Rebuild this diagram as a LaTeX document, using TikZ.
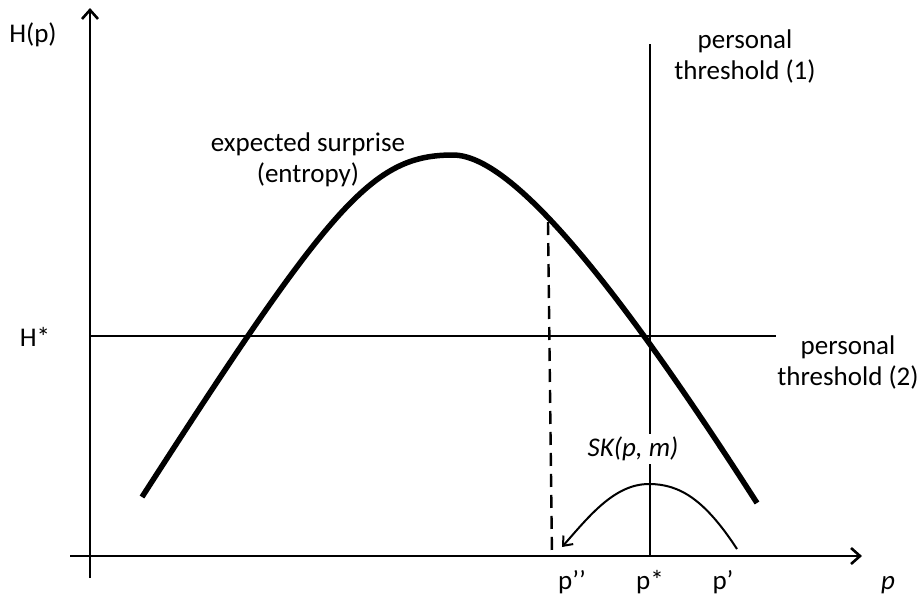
\documentclass[tikz,border=0pt]{standalone}
\usepackage{fontspec}
\setmainfont{Carlito}
\usetikzlibrary{arrows.meta}
\tikzset{
  axis/.style={line width=2.6pt, -{Straight Barb[length=9pt,width=16pt,line width=2.6pt]}},
  level/.style={line width=2.2pt},
  entropy/.style={line width=5.5pt},
  guide/.style={line width=2.4pt, dash pattern=on 13pt off 8pt},
  skarrow/.style={line width=2pt, -{Straight Barb[length=8pt,width=13pt,line width=2pt]}},
  lbl/.style={font=\fontsize{27}{31}\selectfont, inner sep=1pt},
  mlbl/.style={lbl, align=center},
}
\begin{document}
\begin{tikzpicture}[x=1pt, y=-1pt]
\useasboundingbox (0,0) rectangle (921,603);
% Axes
\coordinate (ybot) at (90,578);
\coordinate (ytop) at (90,8);
\coordinate (xleft) at (70,556);
\coordinate (xright) at (862,556);
\draw[axis] (ybot) -- (ytop);
\draw[axis] (xleft) -- (xright);
\node[lbl, anchor=base] (hp) at (33,42) {H(p)};
\node[lbl, anchor=base] (pax) at (888,589) {\itshape p};
% Threshold lines
\coordinate (hleft) at (90,336);
\coordinate (hright) at (776,336);
\draw[level] (hleft) -- (hright);
\node[lbl, anchor=base] (hstar) at (35,346) {H*};
\coordinate (vtop) at (650,44);
\coordinate (vbot) at (650,556);
\draw[level] (vtop) -- (vbot);
\node[mlbl] (thrA) at (745,56) {personal\\threshold (1)};
\node[mlbl] (thrB) at (848,362) {personal\\threshold (2)};
% Entropy curve
\coordinate (hleftend) at (142,497);
\coordinate (hpeak) at (453,155);
\coordinate (hrightend) at (757,503);
\draw[entropy] (hleftend) .. controls (332,202) and (373,155) .. (hpeak)
  .. controls (513,155) and (619,288) .. (hrightend);
\node[mlbl] (ent) at (308,160) {expected surprise\\(entropy)};
% Dashed drop to p''
\coordinate (dtop) at (548,222);
\coordinate (dbot) at (552,556);
\draw[guide] (dtop) -- (dbot);
% SK curve
\coordinate (skright) at (737,549);
\coordinate (skpeak) at (649,484);
\coordinate (skleft) at (562,547);
\draw[skarrow] (skright) .. controls (705,500) and (680,484) .. (skpeak) .. controls (615,484) and (590,515) .. (skleft);
\node[lbl, fill=white, inner sep=3pt] (sk) at (633,449) {\itshape SK(p, m)};
% Tick labels
\node[lbl, anchor=base] (pdd) at (572,589) {p’’};
\node[lbl, anchor=base] (pst) at (650,589) {p*};
\node[lbl, anchor=base] (pd) at (723,589) {p’};
\end{tikzpicture}
\end{document}
